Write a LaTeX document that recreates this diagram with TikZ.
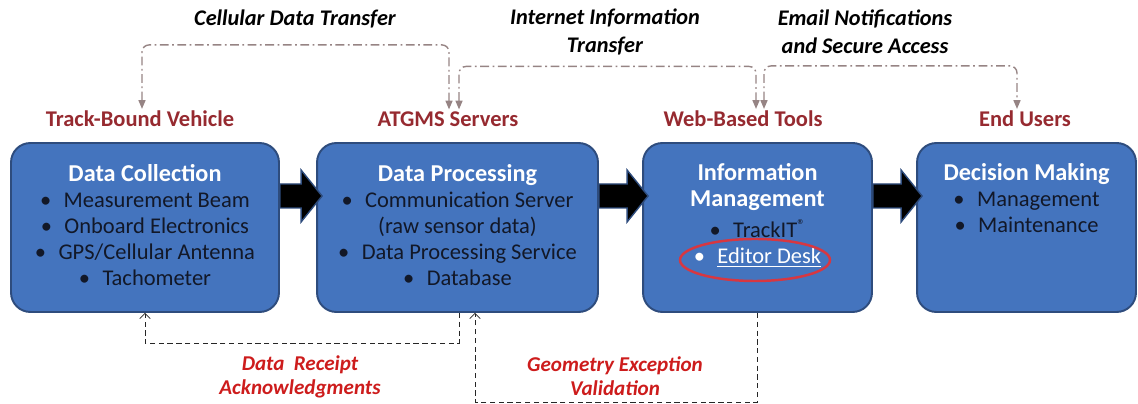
\documentclass[tikz,border=0pt]{standalone}
\usepackage{fontspec}
\setmainfont{Carlito}
\usetikzlibrary{arrows.meta,calc,positioning}
\definecolor{flowblue}{RGB}{68,116,190}
\definecolor{flowedge}{RGB}{46,76,125}
\definecolor{flowink}{RGB}{18,24,40}
\definecolor{flowmaroon}{RGB}{150,42,48}
\definecolor{flowred}{RGB}{205,28,28}
\definecolor{flowgray}{RGB}{150,132,132}
\definecolor{flowring}{RGB}{215,55,65}
\newcommand{\boxhead}[1]{{\color{white}\fontsize{13.8}{14.8}\selectfont\bfseries #1}}
\newcommand{\itm}{\textbullet\hspace{0.55em}}

\begin{document}
\begin{tikzpicture}[x=0.02cm,y=-0.02cm,>=Stealth,
  box/.style={draw=flowedge,line width=1.1pt,fill=flowblue,rounded corners=11pt,minimum height=3.38cm},
  boxtxt/.style={anchor=north,inner sep=0pt,align=center,text=flowink,font=\fontsize{12.8}{14.8}\selectfont},
  place/.style={inner sep=1pt,text=flowmaroon,font=\fontsize{12.8}{15}\selectfont\bfseries},
  flowlbl/.style={align=center,font=\fontsize{12.7}{16}\selectfont\bfseries\itshape},
  redlbl/.style={align=center,text=flowred,font=\fontsize{12}{13.7}\selectfont\bfseries\itshape},
  link/.style={flowgray,thick,dash pattern=on 5pt off 2pt on 1pt off 2pt,rounded corners=4pt,
    {Triangle[length=5pt,width=4pt]}-{Triangle[length=5pt,width=4pt]}},
  ack/.style={black!85,thin,dash pattern=on 3pt off 2pt,-{Straight Barb[length=3pt,width=6pt]}},
  blok/.style={fill=black,draw=flowedge,line width=0.8pt,line join=miter}]
\useasboundingbox (0,0) rectangle (1138,404);
% cztery pola
\node[box,minimum width=5.36cm] (collect) at (145,227.5) {};
\node[box,minimum width=5.62cm] (process) at (457.5,227.5) {};
\node[box,minimum width=4.58cm] (manage) at (757.5,227.5) {};
\node[box,minimum width=4.38cm] (decide) at (1026.5,227.5) {};
% grube strzalki miedzy polami
\foreach \a/\b in {collect/process,process/manage,manage/decide}
  \draw[blok] (\a.east |- 0,184) -- ($(\b.west |- 0,184)+(-15,0)$)
    -- ($(\b.west |- 0,170)+(-15,0)$) -- ($(\b.west |- 0,196)+(6,0)$)
    -- ($(\b.west |- 0,222)+(-15,0)$) -- ($(\b.west |- 0,208)+(-15,0)$)
    -- (\a.east |- 0,208) -- cycle;
% tresc pol
\node[boxtxt] (collect-txt) at (145,164) {\boxhead{Data Collection}\\
  \itm Measurement Beam\\ \itm Onboard Electronics\\
  \itm GPS/Cellular Antenna\\ \itm Tachometer};
\node[boxtxt] (process-txt) at (457.5,164) {\boxhead{Data Processing}\\
  \itm Communication Server\\ (raw sensor data)\\
  \itm Data Processing Service\\ \itm Database};
\node[boxtxt] (manage-txt) at (757.5,163) {\boxhead{Information}\\ \boxhead{Management}\\[3pt]
  \itm TrackIT{\fontsize{9}{9}\selectfont\raisebox{0.45em}{®}}\\ {\color{white}\itm\underline{Editor Desk}}};
\node[boxtxt] (decide-txt) at (1026.5,163) {\boxhead{Decision Making}\\
  \itm Management\\ \itm Maintenance};
\draw[flowring,line width=1.4pt] (755,260) ellipse [x radius=75,y radius=21];
% etykiety nad polami
\node[place] (vehicle) at (140,119) {Track-Bound Vehicle};
\node[place] (servers) at (448,119) {ATGMS Servers};
\node[place] (web) at (743,119) {Web-Based Tools};
\node[place] (users) at (1025,119) {End Users};
% przeplyw danych u gory
\draw[link] ($(vehicle.north)+(2,0)$) -- ++(0,-64) -| ($(servers.north)+(1,0)$);
\draw[link] ($(servers.north)+(11,0)$) -- ++(0,-43) -| ($(web.north)+(13,0)$);
\draw[link] ($(web.north)+(21,0)$) -- ++(0,-43) -| ($(users.north)+(-8,0)$);
\node[flowlbl] (cellular) at (295,19) {Cellular Data Transfer};
\node[flowlbl] (internet) at (605,32) {Internet Information\\Transfer};
\node[flowlbl] (email) at (865,32) {Email Notifications\\and Secure Access};
% potwierdzenia u dolu
\draw[ack] ($(process.south)+(1.5,0)$) -- ++(0,30) -| (collect.south);
\draw[ack] (manage.south) -- ++(0,89) -| ($(process.south)+(17.5,0)$);
\node[redlbl] (receipt) at (300,377) {Data\ \ Receipt\\Acknowledgments};
\node[redlbl] (geometry) at (615,376) {Geometry Exception\\Validation};
\end{tikzpicture}
\end{document}
